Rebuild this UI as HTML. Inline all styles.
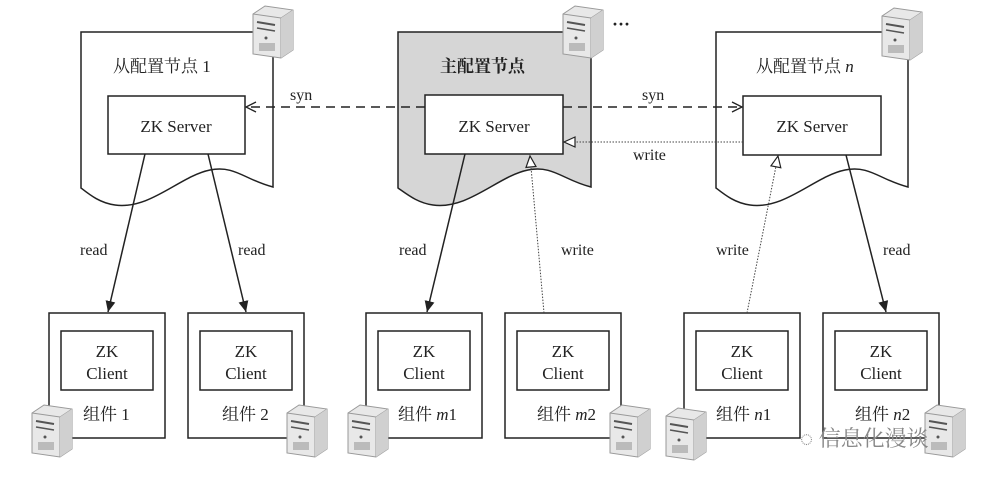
<!DOCTYPE html>
<html><head><meta charset="utf-8"><style>
html,body{margin:0;padding:0;background:#fff;}
svg{display:block}
text{font-family:"Liberation Serif","Noto Serif CJK SC",serif;fill:#222;}
</style></head><body>
<svg width="1001" height="479" viewBox="0 0 1001 479" xmlns="http://www.w3.org/2000/svg">
<defs>
<g id="srv">
<path d="M0 8 L12 0 L40 4 L40 44 L28 52 L0 48 Z" fill="#e8e8e8" stroke="#999" stroke-width="1"/>
<path d="M0 8 L28 12 L40 4" fill="none" stroke="#999"/>
<path d="M28 12 L28 52" stroke="#999"/>
<path d="M28 12 L40 4 L40 44 L28 52Z" fill="#d0d0d0"/>
<line x1="4" y1="16" x2="22" y2="19" stroke="#555" stroke-width="2"/>
<line x1="4" y1="22" x2="22" y2="25" stroke="#555" stroke-width="1.5"/>
<circle cx="13" cy="32" r="1.5" fill="#555"/>
<rect x="6" y="37" width="16" height="8" fill="#bbb"/>
</g>
<marker id="open" markerWidth="12" markerHeight="12" refX="11" refY="6" orient="auto" markerUnits="userSpaceOnUse">
<path d="M1 1 L11 6 L1 11" fill="none" stroke="#222" stroke-width="1.3"/></marker>
<marker id="fill" markerWidth="12" markerHeight="14" refX="11" refY="5" orient="auto" markerUnits="userSpaceOnUse">
<path d="M0 0 L11 5 L0 10 Z" fill="#222"/></marker>
<marker id="tri" markerWidth="14" markerHeight="14" refX="12" refY="6" orient="auto" markerUnits="userSpaceOnUse">
<path d="M1 1 L12 6 L1 11 Z" fill="#fff" stroke="#222" stroke-width="1.2"/></marker>
</defs>

<path d="M81 32 H273 V187 C245 180 235 165 210 170 C180 176 150 210 115 205 C100 203 90 195 81 188 Z" fill="#fff" stroke="#222" stroke-width="1.5"/>
<path d="M398 32 H591 V187 C563 180 553 165 528 170 C498 176 468 210 433 205 C418 203 408 195 398 188 Z" fill="#d6d6d6" stroke="#222" stroke-width="1.5"/>
<path d="M716 32 H908 V187 C880 180 870 165 845 170 C815 176 785 210 750 205 C735 203 725 195 716 188 Z" fill="#fff" stroke="#222" stroke-width="1.5"/>

<text x="113" y="72" font-size="17">从配置节点 1</text>
<text x="440" y="72" font-size="17" font-weight="bold">主配置节点</text>
<text x="756" y="72" font-size="17">从配置节点 <tspan font-style="italic">n</tspan></text>
<text x="612" y="30" font-size="18" font-weight="bold">···</text>

<rect x="108" y="96" width="137" height="58" fill="#fff" stroke="#222" stroke-width="1.5"/>
<rect x="425" y="95" width="138" height="59" fill="#fff" stroke="#222" stroke-width="1.5"/>
<rect x="743" y="96" width="138" height="59" fill="#fff" stroke="#222" stroke-width="1.5"/>
<text x="176" y="132" font-size="17" text-anchor="middle">ZK Server</text>
<text x="494" y="132" font-size="17" text-anchor="middle">ZK Server</text>
<text x="812" y="132" font-size="17" text-anchor="middle">ZK Server</text>

<use href="#srv" x="253" y="6"/>
<use href="#srv" x="563" y="6"/>
<use href="#srv" x="882" y="8"/>

<line x1="425" y1="107" x2="246" y2="107" stroke="#222" stroke-width="1.5" stroke-dasharray="9,6" marker-end="url(#open)"/>
<line x1="563" y1="107" x2="742" y2="107" stroke="#222" stroke-width="1.5" stroke-dasharray="9,6" marker-end="url(#open)"/>
<text x="290" y="100" font-size="16">syn</text>
<text x="642" y="100" font-size="16">syn</text>
<line x1="743" y1="142" x2="564" y2="142" stroke="#444" stroke-width="1" stroke-dasharray="1.5,1.5" marker-end="url(#tri)"/>
<text x="633" y="160" font-size="16">write</text>

<g stroke="#222" stroke-width="1.5" fill="#fff">
<rect x="49" y="313" width="116" height="125"/><rect x="61" y="331" width="92" height="59"/>
<rect x="188" y="313" width="116" height="125"/><rect x="200" y="331" width="92" height="59"/>
<rect x="366" y="313" width="116" height="125"/><rect x="378" y="331" width="92" height="59"/>
<rect x="505" y="313" width="116" height="125"/><rect x="517" y="331" width="92" height="59"/>
<rect x="684" y="313" width="116" height="125"/><rect x="696" y="331" width="92" height="59"/>
<rect x="823" y="313" width="116" height="125"/><rect x="835" y="331" width="92" height="59"/>
</g>
<g font-size="17" text-anchor="middle">
<text x="107" y="357">ZK</text><text x="107" y="379">Client</text>
<text x="246" y="357">ZK</text><text x="246" y="379">Client</text>
<text x="424" y="357">ZK</text><text x="424" y="379">Client</text>
<text x="563" y="357">ZK</text><text x="563" y="379">Client</text>
<text x="742" y="357">ZK</text><text x="742" y="379">Client</text>
<text x="881" y="357">ZK</text><text x="881" y="379">Client</text>
</g>
<g font-size="17">
<text x="83" y="420">组件 1</text>
<text x="222" y="420">组件 2</text>
<text x="398" y="420">组件 <tspan font-style="italic">m</tspan>1</text>
<text x="537" y="420">组件 <tspan font-style="italic">m</tspan>2</text>
<text x="716" y="420">组件 <tspan font-style="italic">n</tspan>1</text>
<text x="855" y="420">组件 <tspan font-style="italic">n</tspan>2</text>
</g>

<g stroke="#222" stroke-width="1.5">
<line x1="145" y1="154" x2="108" y2="312" marker-end="url(#fill)"/>
<line x1="208" y1="154" x2="246" y2="312" marker-end="url(#fill)"/>
<line x1="465" y1="154" x2="427" y2="312" marker-end="url(#fill)"/>
<line x1="846" y1="155" x2="886" y2="312" marker-end="url(#fill)"/>
</g>
<g stroke="#444" stroke-width="1" stroke-dasharray="1.5,1.5">
<line x1="544" y1="313" x2="530" y2="156" marker-end="url(#tri)"/>
<line x1="747" y1="313" x2="778" y2="156" marker-end="url(#tri)"/>
</g>
<g font-size="16">
<text x="80" y="255">read</text>
<text x="238" y="255">read</text>
<text x="399" y="255">read</text>
<text x="561" y="255">write</text>
<text x="716" y="255">write</text>
<text x="883" y="255">read</text>
</g>

<use href="#srv" x="32" y="405"/>
<use href="#srv" x="287" y="405"/>
<use href="#srv" x="348" y="405"/>
<use href="#srv" x="610" y="405"/>
<use href="#srv" x="666" y="408"/>
<use href="#srv" x="925" y="405"/>

<text x="800" y="446" font-size="22" font-family="Liberation Sans,Noto Sans CJK SC,sans-serif" style="fill:#888">◌ 信息化漫谈</text>
</svg>
</body></html>
